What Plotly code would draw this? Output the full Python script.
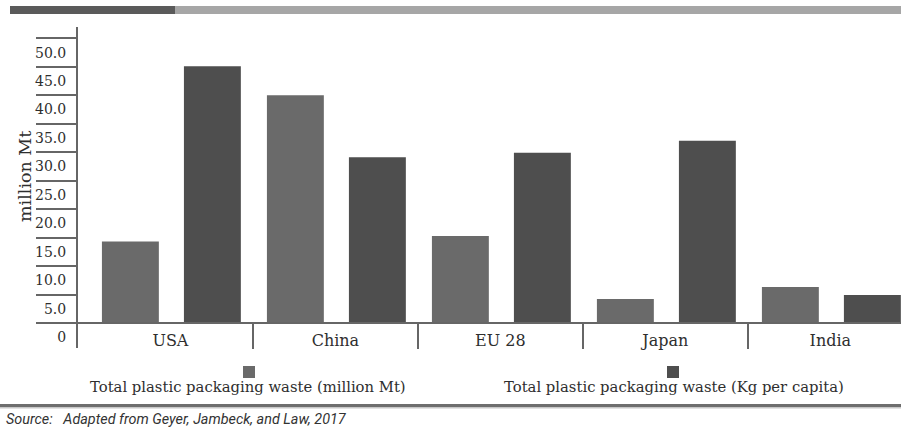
import plotly.graph_objects as go

# ---- data ----
categories = ["USA", "China", "EU 28", "Japan", "India"]
waste_mt = [14.3, 40.0, 15.3, 4.2, 6.3]          # Total plastic packaging waste (million Mt)
waste_kg_pc = [45.1, 29.1, 29.9, 32.0, 4.9]      # Total plastic packaging waste (Kg per capita)
ytick_vals = [0, 5, 10, 15, 20, 25, 30, 35, 40, 45, 50]
ytick_text = ["0", "5.0", "10.0", "15.0", "20.0", "25.0", "30.0", "35.0", "40.0", "45.0", "50.0"]
series_names = ["Total plastic packaging waste (million Mt)",
                "Total plastic packaging waste (Kg per capita)"]
source_text = "Source:   Adapted from Geyer, Jambeck, and Law, 2017"

# ---- styling ----
W, H = 901, 427
ML, MR, MT, MB = 78, 0, 27, 79
PW, PH = W - ML - MR, H - MT - MB
C_LIGHT = "#6a6a6a"
C_DARK = "#4e4e4e"
AX = "#666666"
TXT = "#2e2e2e"
SERIF = "DejaVu Serif"

XR = [-0.56, 4.428]
YR = [-4.4, 52.0]


def px(x):
    return (x - ML) / PW


def py(y):
    return (MT + PH - y) / PH


xpos = list(range(len(categories)))

fig = go.Figure()
fig.add_trace(go.Bar(x=xpos, y=waste_mt, name=series_names[0], marker_color=C_LIGHT,
                     marker_line_width=0, width=0.345, offset=-0.415,
                     showlegend=False, hoverinfo="skip"))
fig.add_trace(go.Bar(x=xpos, y=waste_kg_pc, name=series_names[1], marker_color=C_DARK,
                     marker_line_width=0, width=0.345, offset=0.082,
                     showlegend=False, hoverinfo="skip"))

baseline_pos = (0 - YR[0]) / (YR[1] - YR[0])

fig.update_layout(
    width=W, height=H,
    margin=dict(l=ML, r=MR, t=MT, b=MB, autoexpand=False),
    paper_bgcolor="white", plot_bgcolor="white",
    barmode="overlay",
    showlegend=False,
    xaxis=dict(range=XR, anchor="free", position=baseline_pos, side="bottom",
               tickmode="array", tickvals=xpos, ticktext=categories, ticks="",
               showline=True, linecolor=AX, linewidth=2, mirror=False,
               showgrid=False, zeroline=False, ticklabelstandoff=3,
               tickfont=dict(family=SERIF, size=16, color=TXT), fixedrange=True,
               minor=dict(tickmode="array", tickvals=[0.5, 1.5, 2.5, 3.5], ticks="outside",
                          ticklen=25, tickwidth=2, tickcolor=AX, showgrid=False)),
    yaxis=dict(range=YR, tickmode="array", tickvals=[v - 2.5 for v in ytick_vals],
               ticktext=ytick_text, ticks="", showline=True, linecolor=AX, linewidth=2,
               showgrid=False, zeroline=False, ticklabelstandoff=7,
               tickfont=dict(family=SERIF, size=14, color=TXT), fixedrange=True,
               minor=dict(tickmode="array", tickvals=ytick_vals, ticks="outside", ticklen=40,
                          tickwidth=2, tickcolor=AX, showgrid=False)),
)

shapes = [
    # top banner bar
    dict(type="rect", xref="paper", yref="paper", x0=px(10), x1=px(175), y0=py(14), y1=py(6),
         fillcolor="#5a5a5a", line_width=0, layer="above"),
    dict(type="rect", xref="paper", yref="paper", x0=px(175), x1=px(901), y0=py(14), y1=py(6),
         fillcolor="#a6a6a6", line_width=0, layer="above"),
    # bottom rule
    dict(type="rect", xref="paper", yref="paper", x0=px(0), x1=px(901), y0=py(407), y1=py(404),
         fillcolor="#6e6e6e", line_width=0, layer="above"),
    dict(type="rect", xref="paper", yref="paper", x0=px(0), x1=px(901), y0=py(408.5), y1=py(407),
         fillcolor="#c8c8c8", line_width=0, layer="above"),
    # legend swatches
    dict(type="rect", xref="paper", yref="paper", x0=px(243), x1=px(255), y0=py(378), y1=py(366),
         fillcolor=C_LIGHT, line_width=0),
    dict(type="rect", xref="paper", yref="paper", x0=px(667), x1=px(679), y0=py(378), y1=py(366),
         fillcolor=C_DARK, line_width=0),
]

annotations = [
    dict(text="million Mt", xref="paper", yref="paper", x=px(25), y=py(177), textangle=-90,
         showarrow=False, xanchor="center", yanchor="middle",
         font=dict(family=SERIF, size=17.5, color=TXT)),
    dict(text=series_names[0], xref="paper", yref="paper", x=px(248), y=py(386),
         showarrow=False, xanchor="center", yanchor="middle",
         font=dict(family=SERIF, size=14.8, color=TXT)),
    dict(text=series_names[1], xref="paper", yref="paper", x=px(674), y=py(386),
         showarrow=False, xanchor="center", yanchor="middle",
         font=dict(family=SERIF, size=14.8, color=TXT)),
    dict(text="<i>" + source_text.replace(" ", "&nbsp;", 3) + "</i>", xref="paper", yref="paper",
         x=px(4), y=py(419), showarrow=False, xanchor="left", yanchor="middle",
         font=dict(family="Roboto", size=14.4, color="#333333")),
]

fig.update_layout(shapes=shapes, annotations=annotations)
fig.write_html("out.html")
